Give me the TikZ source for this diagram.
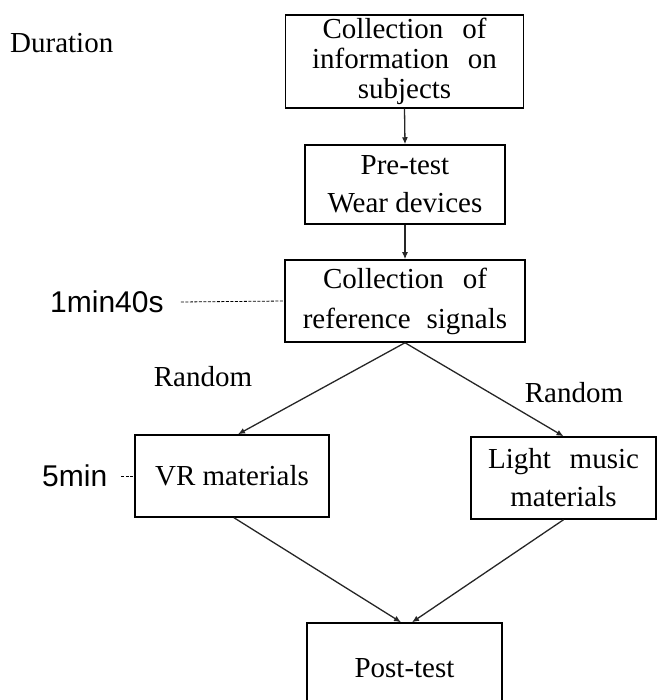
\documentclass[tikz,border=0pt]{standalone}
\usepackage{fontspec}
\setmainfont{Liberation Serif}
\newfontfamily\arialfont{Liberation Sans}
\usetikzlibrary{arrows.meta,calc}
\begin{document}
\begin{tikzpicture}[x=1pt,y=-1pt,
  box/.style={draw,line width=1.5pt,inner sep=0pt,align=center,font=\fontsize{29}{38}\selectfont},
  lbl/.style={inner sep=0pt,font=\fontsize{29}{34}\selectfont},
  dur/.style={inner sep=0pt,font=\arialfont\fontsize{30}{34}\selectfont},
  conn/.style={line width=1.3pt,draw=black!85,-{Latex[length=7pt,width=6pt]}},
  dashline/.style={line width=0.8pt,dash pattern=on 3pt off 1.5pt}]
\useasboundingbox (0,0) rectangle (657,700);
\clip (0,0) rectangle (657,700);
\node[box,minimum width=238pt,minimum height=93pt,font=\fontsize{29}{30}\selectfont] (b1) at (404.5,61.5) {Collection\hspace{0.4em} of\\information\hspace{0.4em} on\\subjects};
\node[box,minimum width=200pt,minimum height=79pt] (b2) at (405,184.5) {Pre-test\\Wear devices};
\node[box,minimum width=240pt,minimum height=82pt,font=\fontsize{29}{40}\selectfont] (b3) at (405,301) {Collection\hspace{0.4em} of\\reference\hspace{0.3em} signals};
\node[box,minimum width=194pt,minimum height=82pt] (vr) at (232,476) {VR materials};
\node[box,minimum width=185pt,minimum height=82pt] (lm) at (563.5,478) {Light\hspace{0.4em} music\\materials};
\node[box,minimum width=195pt,minimum height=90pt] (pt) at (404.5,668) {Post-test};
\node[lbl,anchor=west] (du) at (10,43) {Duration};
\node[dur,anchor=west] (t1) at (50,302) {1min40s};
\node[dur,anchor=west] (t2) at (42,476) {5min};
\node[lbl] (r1) at (203,377) {Random};
\node[lbl] (r2) at (574,393) {Random};
\draw[conn] (b1.south) -- (b2.north);
\draw[conn] (b2.south) -- (b3.north);
\draw[conn] (b3.south) -- ([xshift=6pt]vr.north);
\draw[conn] (b3.south) -- (lm.north);
\draw[conn] ([xshift=2pt]vr.south) -- ([xshift=-3.5pt]pt.north);
\draw[conn] (lm.south) -- ([xshift=7.5pt]pt.north);
\draw[dashline] ([xshift=17pt]t1.east) -- (b3.west);
\draw[dashline] ([xshift=14pt]t2.east) -- (vr.west);
\end{tikzpicture}
\end{document}
